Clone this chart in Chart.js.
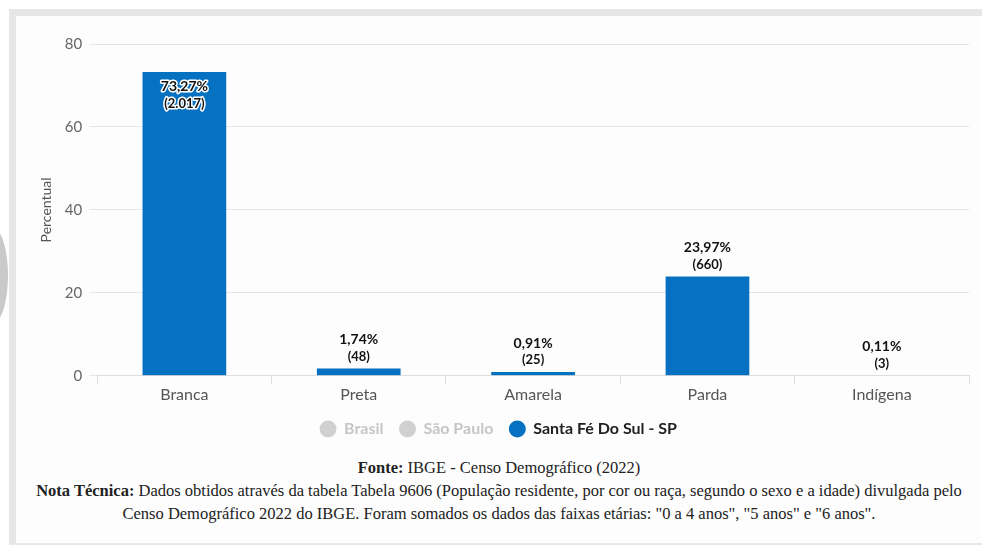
<!DOCTYPE html>
<html>
<head>
<meta charset="utf-8">
<script src="https://cdn.jsdelivr.net/npm/chart.js@4.4.1/dist/chart.umd.min.js"></script>
<style>
  html, body { margin: 0; padding: 0; background: #fff; }
  body { width: 982px; height: 545px; position: relative; overflow: hidden; }
  .moldura {
    position: absolute; left: 9px; top: 9px; right: -20px; bottom: 0px;
    border-top: 7px solid #e6e6e6; border-left: 7px solid #e6e6e6; border-bottom: 2px solid #e8e8e8;
    background: #fdfdfd;
  }
  .marca { position: absolute; left: -22px; top: 228px; width: 30px; height: 95px; border-radius: 50%; background: #c9c9c9; }
  .grafico { position: absolute; left: 16px; top: 16px; width: 966px; height: 431px; }
  .rodape {
    position: absolute; left: 16px; width: 966px; top: 456px; text-align: center;
    font-family: "Liberation Serif", "DejaVu Serif", serif; font-size: 16.5px; color: #222; line-height: 23px;
  }
  .rodape b { font-weight: bold; }
</style>
</head>
<body>
<div class="marca"></div>
<div class="moldura"></div>
<div class="grafico"><canvas id="barras"></canvas></div>
<div class="rodape">
  <div><b>Fonte:</b> IBGE - Censo Demográfico (2022)</div>
  <div><b>Nota Técnica:</b> Dados obtidos através da tabela Tabela 9606 (População residente, por cor ou raça, segundo o sexo e a idade) divulgada pelo</div>
  <div>Censo Demográfico 2022 do IBGE. Foram somados os dados das faixas etárias: "0 a 4 anos", "5 anos" e "6 anos".</div>
</div>
<script>
"use strict";

// dados
var categorias = ['Branca', 'Preta', 'Amarela', 'Parda', 'Indígena'];
var percentuais = [73.27, 1.74, 0.91, 23.97, 0.11];
var contagens = [2017, 48, 25, 660, 3];
var legendaNomes = ['Brasil', 'São Paulo', 'Santa Fé Do Sul - SP'];
var legendaCores = ['#d0d0d0', '#d0d0d0', '#0670c1'];
var legendaTextos = ['#c6c6c6', '#c6c6c6', '#222222'];
var yMax = 80;
var yPasso = 20;

var fonteBase = 'Lato, "Open Sans", sans-serif';

function formataPct(v) {
  return v.toFixed(2).replace('.', ',') + '%';
}
function formataMil(n) {
  return '(' + String(n).replace(/\B(?=(\d{3})+(?!\d))/g, '.') + ')';
}

//rotulos em cima das barras
var rotulosPlugin = {
  id: 'rotulos',
  afterDatasetsDraw: function (chart) {
    var ctx = chart.ctx;
    var meta = chart.getDatasetMeta(0);
    var area = chart.chartArea;
    ctx.save();
    ctx.textAlign = 'center';
    ctx.textBaseline = 'middle';
    meta.data.forEach(function (barra, i) {
      var t1 = formataPct(percentuais[i]);
      var t2 = formataMil(contagens[i]);
      var y1, y2, dentro = false;
      if (barra.y - 38 < area.top) {
        dentro = true;
        y1 = barra.y + 15;
        y2 = barra.y + 32;
      } else {
        y1 = barra.y - 29;
        y2 = barra.y - 12;
      }
      ctx.lineJoin = 'round';
      ctx.strokeStyle = '#ffffff';
      ctx.lineWidth = 3;
      ctx.fillStyle = '#111111';
      ctx.font = 'bold 14px ' + fonteBase;
      if (dentro) ctx.strokeText(t1, barra.x, y1);
      ctx.fillText(t1, barra.x, y1);
      ctx.font = 'bold 13px ' + fonteBase;
      if (dentro) ctx.strokeText(t2, barra.x, y2);
      ctx.fillText(t2, barra.x, y2);
    });
    ctx.restore();
  }
};

var barChartCanvas = document.getElementById('barras').getContext('2d');
var barChart = new Chart(barChartCanvas, {
  type: 'bar',
  data: {
    labels: categorias,
    datasets: [
      {
        label: legendaNomes[2],
        data: percentuais,
        backgroundColor: legendaCores[2],
        borderWidth: 0,
        categoryPercentage: 0.8,
        barPercentage: 0.6
      }
    ]
  },
  options: {
    responsive: true,
    maintainAspectRatio: false,
    animation: false,
    layout: { padding: { top: 28, right: 13, left: 12, bottom: 0 } },
    plugins: {
      tooltip: { enabled: false },
      legend: {
        position: 'bottom',
        onClick: null,
        labels: {
          usePointStyle: true,
          boxHeight: 12,
          padding: 16,
          font: { family: fonteBase, size: 16, weight: 'bold' },
          generateLabels: function () {
            return legendaNomes.map(function (nome, i) {
              return {
                text: nome,
                fillStyle: legendaCores[i],
                strokeStyle: legendaCores[i],
                fontColor: legendaTextos[i],
                lineWidth: 0,
                pointStyle: 'circle',
                hidden: false,
                datasetIndex: i
              };
            });
          }
        }
      }
    },
    scales: {
      x: {
        offset: true,
        grid: { display: true, drawOnChartArea: false, drawTicks: true, tickLength: 8, color: '#dddddd', offset: true },
        border: { display: true, color: '#dddddd' },
        ticks: { color: '#555555', font: { family: fonteBase, size: 16 }, padding: 1 },
      },
      y: {
        min: 0,
        max: yMax,
        ticks: { stepSize: yPasso, color: '#666666', font: { family: fonteBase, size: 15 }, padding: 7 },
        grid: { color: '#e6e6e6', tickLength: 8 },
        border: { display: false },
        title: { display: true, text: 'Percentual', color: '#555555', font: { family: fonteBase, size: 14 }, padding: { top: 10, bottom: 3 } }
      }
    }
  },
  plugins: [rotulosPlugin]
});
</script>
</body>
</html>
